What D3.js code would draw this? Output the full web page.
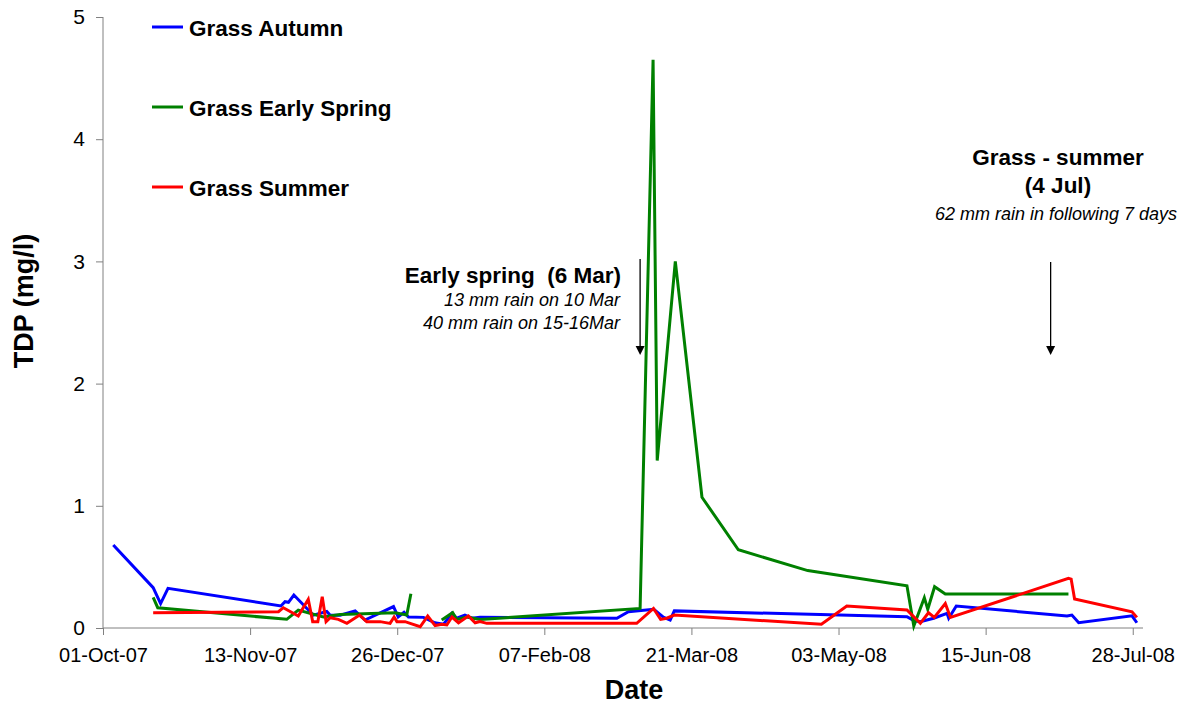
<!DOCTYPE html>
<html>
<head>
<meta charset="utf-8">
<script src="https://cdn.jsdelivr.net/npm/d3@7"></script>
<style>
  html, body { margin: 0; padding: 0; background: #fff; }
  svg { display: block; font-family: "Liberation Sans", Arial, sans-serif; }
</style>
</head>
<body>
<svg id="chart" width="1192" height="704"></svg>
<script>
// ---------- DATA ----------
const seriesNames = ["Grass Autumn", "Grass Early Spring", "Grass Summer"];
const seriesColors = ["#0000ff", "#008000", "#ff0000"];

const autumnDates = ["2007-10-04T00:00","2007-10-15T16:00","2007-10-17T20:00","2007-10-20T00:00","2007-11-22T00:00","2007-11-23T05:00","2007-11-24T05:00","2007-11-25T19:00","2007-12-01T12:00","2007-12-05T10:00","2007-12-06T10:00","2007-12-09T07:00","2007-12-13T17:00","2007-12-16T14:00","2007-12-24T22:00","2007-12-26T07:00","2007-12-28T00:00","2007-12-29T07:00","2008-01-02T17:00","2008-01-06T00:00","2008-01-08T12:00","2008-01-11T00:00","2008-01-12T10:00","2008-01-14T19:00","2008-01-16T19:00","2008-01-19T05:00","2008-02-28T05:00","2008-03-02T14:00","2008-03-10T00:00","2008-03-12T19:00","2008-03-14T19:00","2008-03-16T00:00","2008-05-23T00:00","2008-05-25T00:00","2008-05-26T22:00","2008-05-30T19:00","2008-06-03T17:00","2008-06-04T05:00","2008-06-06T10:00","2008-07-08T19:00","2008-07-10T05:00","2008-07-12T05:00","2008-07-27T19:00","2008-07-29T05:00"];
const autumnValues = [0.68,0.33,0.20,0.325,0.18,0.215,0.21,0.27,0.105,0.135,0.105,0.105,0.14,0.065,0.175,0.09,0.128,0.09,0.087,0.043,0.03,0.12,0.08,0.106,0.08,0.088,0.08,0.133,0.153,0.088,0.065,0.14,0.092,0.06,0.052,0.08,0.12,0.08,0.18,0.098,0.106,0.043,0.10,0.043];

// null marks a break in the line
const springDates = ["2007-10-15T16:00","2007-10-17T00:00","2007-11-23T17:00","2007-11-27T02:00","2007-12-04T10:00","2007-12-09T07:00","2007-12-25T10:00","2007-12-28T19:00","2007-12-30T00:00","2008-01-04T00:00","2008-01-08T00:00","2008-01-11T05:00","2008-01-12T10:00","2008-01-15T07:00","2008-01-19T05:00","2008-03-06T00:00","2008-03-09T19:00","2008-03-11T00:00","2008-03-16T07:00","2008-03-24T02:00","2008-04-03T17:00","2008-04-24T00:00","2008-05-23T00:00","2008-05-25T00:00","2008-05-28T02:00","2008-05-29T02:00","2008-05-31T02:00","2008-06-03T05:00","2008-07-09T05:00"];
const springValues = [0.25,0.166,0.071,0.147,0.09,0.11,0.125,0.106,0.28,null,0.065,0.125,0.07,0.09,0.07,0.16,4.65,1.37,3.0,1.07,0.64,0.47,0.345,0.016,0.248,0.153,0.338,0.278,0.278];

const summerDates = ["2007-10-15T16:00","2007-11-21T07:00","2007-11-22T17:00","2007-11-27T02:00","2007-11-30T00:00","2007-12-01T07:00","2007-12-02T19:00","2007-12-04T02:00","2007-12-05T05:00","2007-12-06T10:00","2007-12-08T19:00","2007-12-11T07:00","2007-12-15T00:00","2007-12-17T02:00","2007-12-21T00:00","2007-12-23T22:00","2007-12-25T02:00","2007-12-25T22:00","2007-12-28T07:00","2008-01-01T17:00","2008-01-03T22:00","2008-01-06T02:00","2008-01-08T00:00","2008-01-09T12:00","2008-01-11T00:00","2008-01-12T22:00","2008-01-15T19:00","2008-01-17T19:00","2008-01-19T05:00","2008-01-21T05:00","2008-03-05T00:00","2008-03-09T22:00","2008-03-12T00:00","2008-03-13T19:00","2008-03-16T00:00","2008-04-28T00:00","2008-05-05T10:00","2008-05-23T00:00","2008-05-26T22:00","2008-05-29T07:00","2008-05-31T00:00","2008-06-03T05:00","2008-06-04T17:00","2008-07-09T05:00","2008-07-10T00:00","2008-07-11T00:00","2008-07-27T19:00","2008-07-29T05:00"];
const summerValues = [0.125,0.133,0.166,0.098,0.235,0.052,0.052,0.256,0.052,0.084,0.071,0.038,0.106,0.052,0.052,0.038,0.09,0.052,0.052,0.01,0.098,0.02,0.03,0.025,0.09,0.043,0.098,0.043,0.052,0.038,0.038,0.16,0.07,0.08,0.106,0.03,0.18,0.147,0.038,0.125,0.087,0.2,0.087,0.406,0.40,0.237,0.133,0.087];

const xTickDates = ["2007-10-01","2007-11-13","2007-12-26","2008-02-07","2008-03-21","2008-05-03","2008-06-15","2008-07-28"];
const yTickValues = [0, 1, 2, 3, 4, 5];
const xDomain = ["2007-10-01T00:00", "2008-07-31T00:00"];
const yDomain = [0, 5];

const annotSpringDate = "2008-03-06T00:00";
const annotSummerDate = "2008-07-04T00:00";

// ---------- CHART ----------
(function () {
const parseT = d3.timeParse("%Y-%m-%dT%H:%M");
const parseD = d3.timeParse("%Y-%m-%d");
const svg = d3.select("#chart");
const pL = 103, pR = 1143, pT = 17, pB = 628;

const x = d3.scaleTime().domain(xDomain.map(parseT)).range([pL, pR]);
const y = d3.scaleLinear().domain(yDomain).range([pB, pT]);

const axisColor = "#808080";
const ff = "Liberation Sans, Arial, sans-serif";

// Y axis
const yAxis = svg.append("g").attr("transform", `translate(${pL},0)`)
  .call(d3.axisLeft(y).tickValues(yTickValues).tickFormat(d3.format("d")).tickSize(7).tickPadding(11));
yAxis.selectAll("path, line").attr("stroke", axisColor);
yAxis.selectAll("text").attr("font-size", 21).attr("fill", "#000").attr("font-family", ff);
yAxis.select(".domain").attr("d", `M0,${pT}V${pB}`);

// X axis
const xAxis = svg.append("g").attr("transform", `translate(0,${pB})`)
  .call(d3.axisBottom(x).tickValues(xTickDates.map(parseD)).tickFormat(d3.timeFormat("%d-%b-%y")).tickSize(7).tickPadding(13));
xAxis.selectAll("path, line").attr("stroke", axisColor);
xAxis.selectAll("text").attr("font-size", 20).attr("fill", "#000").attr("font-family", ff);
xAxis.select(".domain").attr("d", `M${pL},0H${pR}`);

// Axis titles
svg.append("text").attr("x", 634).attr("y", 699)
  .attr("text-anchor", "middle").attr("font-weight", "bold").attr("font-size", 27).text("Date");
svg.append("text").attr("transform", `translate(33,301) rotate(-90)`)
  .attr("text-anchor", "middle").attr("font-weight", "bold").attr("font-size", 27).text("TDP (mg/l)");

// Series
const seriesData = [
  autumnDates.map((d, i) => ({ t: parseT(d), v: autumnValues[i] })),
  springDates.map((d, i) => ({ t: parseT(d), v: springValues[i] })),
  summerDates.map((d, i) => ({ t: parseT(d), v: summerValues[i] }))
];
const line = d3.line().defined(d => d.v !== null).x(d => x(d.t)).y(d => y(d.v));
seriesData.forEach((s, i) => {
  svg.append("path").datum(s).attr("fill", "none").attr("stroke", seriesColors[i])
    .attr("stroke-width", 3).attr("stroke-linejoin", "miter").attr("d", line);
});

// Legend
const legendY = [27, 107, 187];
seriesNames.forEach((n, i) => {
  svg.append("line").attr("x1", 152).attr("x2", 183).attr("y1", legendY[i]).attr("y2", legendY[i])
    .attr("stroke", seriesColors[i]).attr("stroke-width", 3);
  svg.append("text").attr("x", 189).attr("y", legendY[i] + 9).attr("font-weight", "bold")
    .attr("font-size", 22.5).text(n);
});

// Annotations
function arrow(xp, y1, y2) {
  svg.append("line").attr("x1", xp).attr("x2", xp).attr("y1", y1).attr("y2", y2 - 8)
    .attr("stroke", "#000").attr("stroke-width", 1.3);
  svg.append("path").attr("d", `M${xp - 4.5},${y2 - 9}L${xp + 4.5},${y2 - 9}L${xp},${y2}Z`).attr("fill", "#000");
}
const xs = x(parseT(annotSpringDate));
arrow(xs, 259, 355);
svg.append("text").attr("x", 621).attr("y", 283).attr("text-anchor", "end")
  .attr("font-weight", "bold").attr("font-size", 22.5).style("white-space", "pre").text("Early spring  (6 Mar)");
svg.append("text").attr("x", 620).attr("y", 306).attr("text-anchor", "end")
  .attr("font-style", "italic").attr("font-size", 18).text("13 mm rain on 10 Mar");
svg.append("text").attr("x", 620).attr("y", 329).attr("text-anchor", "end")
  .attr("font-style", "italic").attr("font-size", 18).text("40 mm rain on 15-16Mar");

const xu = x(parseT(annotSummerDate));
arrow(xu, 262, 355);
svg.append("text").attr("x", 1058).attr("y", 165).attr("text-anchor", "middle")
  .attr("font-weight", "bold").attr("font-size", 22.5).text("Grass - summer");
svg.append("text").attr("x", 1058).attr("y", 193).attr("text-anchor", "middle")
  .attr("font-weight", "bold").attr("font-size", 22.5).text("(4 Jul)");
svg.append("text").attr("x", 1056).attr("y", 220).attr("text-anchor", "middle")
  .attr("font-style", "italic").attr("font-size", 18).text("62 mm rain in following 7 days");
})();
</script>
</body>
</html>
